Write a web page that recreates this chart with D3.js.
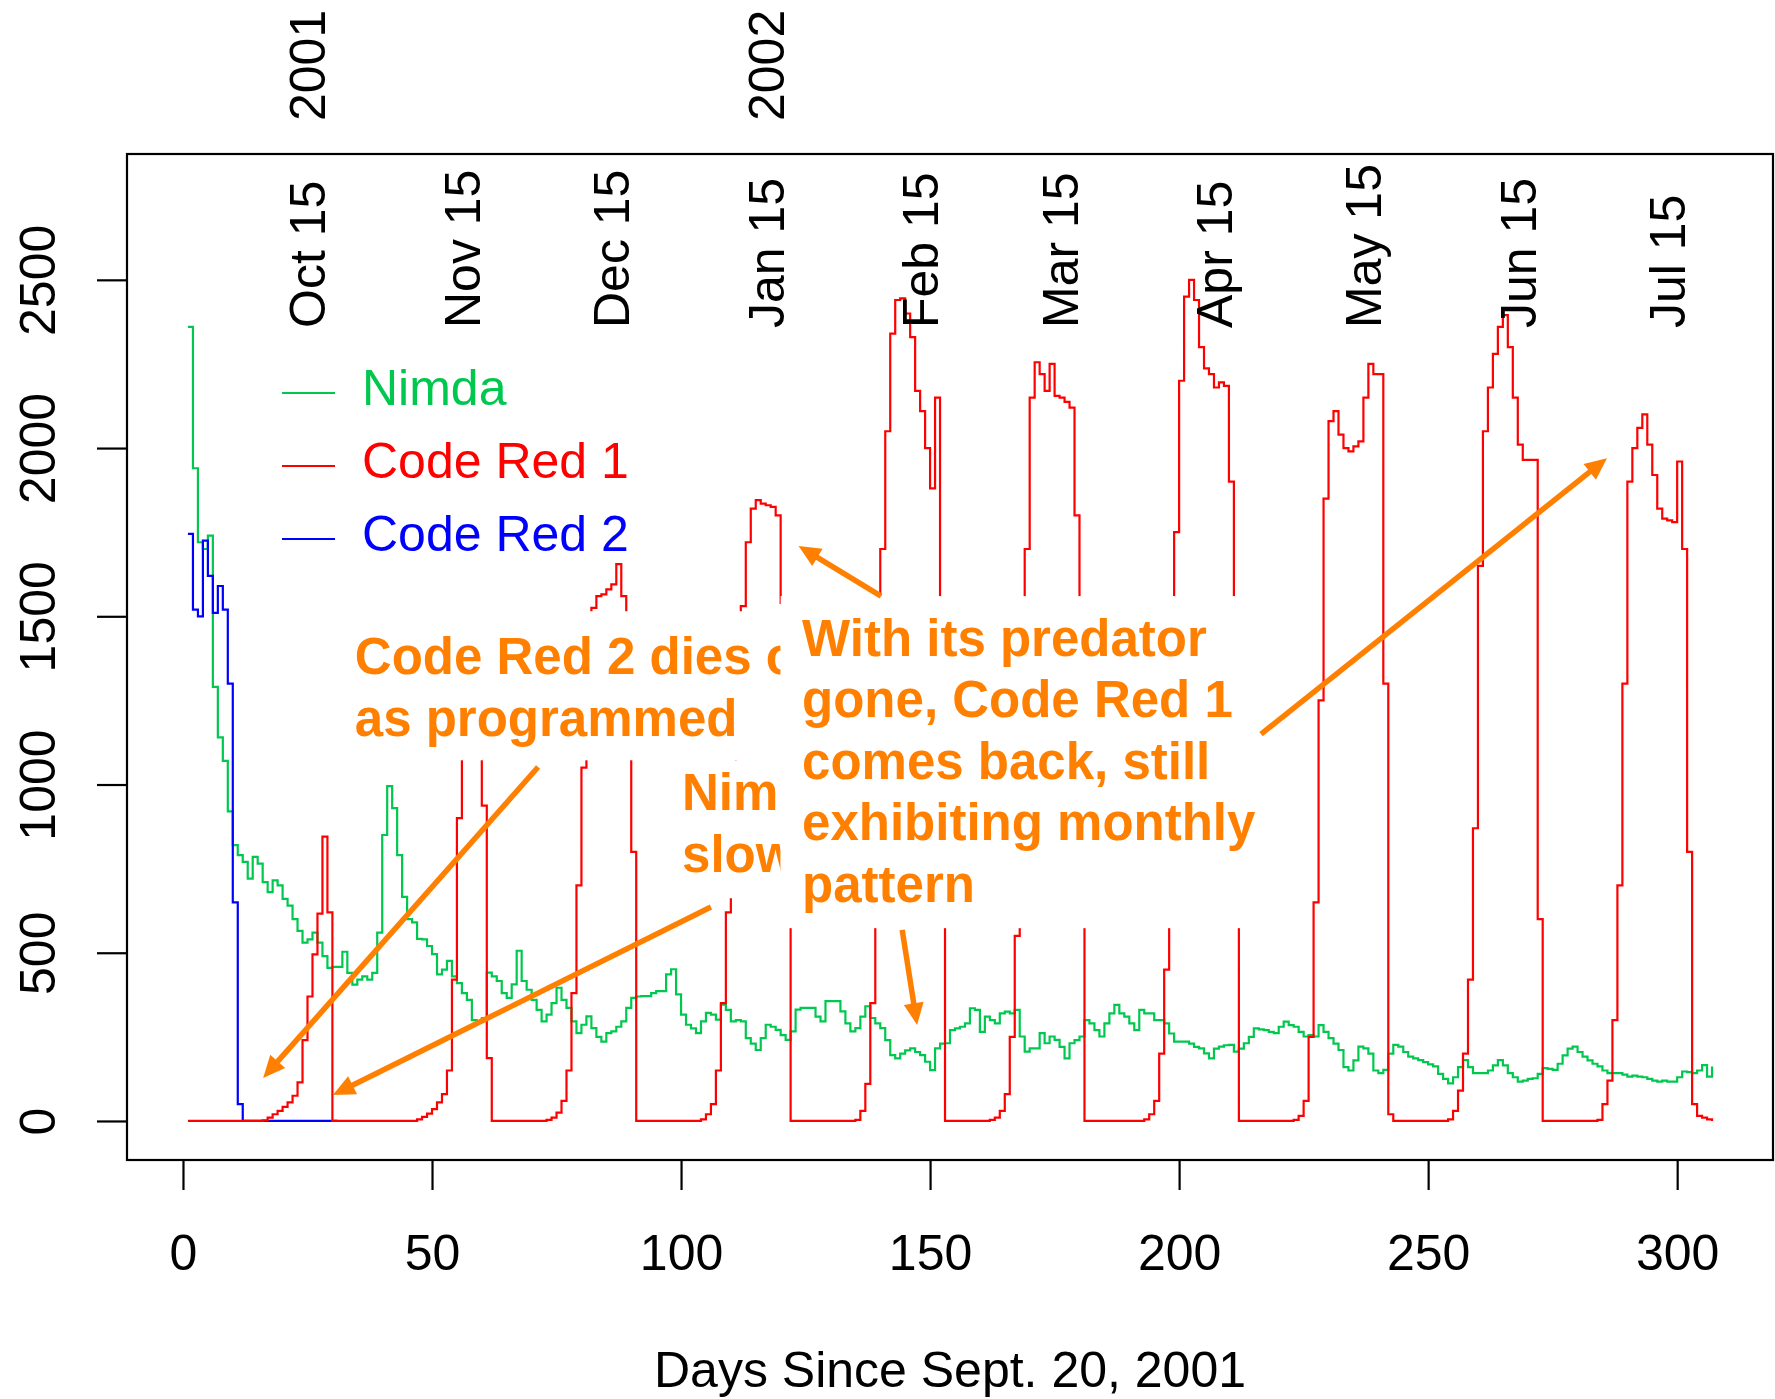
<!DOCTYPE html>
<html><head><meta charset="utf-8">
<script src="https://cdn.jsdelivr.net/npm/d3@7"></script>
<style>
html,body{margin:0;padding:0;background:#fff;}
svg{display:block;}
text{font-family:"Liberation Sans",Arial,Helvetica,sans-serif;}
</style>
</head><body>
<svg id="chart" width="1775" height="1399"></svg>
<script>
// ---------------- DATA (day 1 .. 307 since Sept. 20, 2001) ----------------
const nimda = [
 2360,1940,1720,1700,1740,1290,1140,1070,920,820,
 790,770,720,785,765,710,680,715,700,660,
 640,600,565,530,540,560,530,490,455,458,
 458,503,440,405,420,430,420,440,560,850,
 995,930,790,666,600,590,541,540,520,496,
 436,450,476,430,410,380,360,300,296,306,
 441,430,416,380,366,406,506,416,390,360,
 330,296,316,350,396,360,336,296,261,286,
 311,276,250,236,261,266,280,296,336,366,
 370,371,371,380,386,386,436,451,376,316,
 286,275,261,296,321,316,301,346,330,296,
 300,296,246,230,211,246,286,280,271,255,
 241,266,331,336,336,336,310,296,356,356,
 356,326,290,266,276,310,341,306,290,276,
 240,196,186,200,210,216,205,196,176,151,
 216,230,231,270,275,280,290,335,330,265,
 310,300,290,320,325,320,330,251,206,216,
 216,261,231,251,241,220,186,231,240,251,
 300,290,270,251,290,320,345,320,310,290,
 270,330,320,320,300,300,290,260,236,236,
 236,230,220,216,201,186,215,221,225,226,
 206,215,231,250,275,272,270,265,261,280,
 295,285,280,265,251,255,251,285,265,246,
 230,211,160,150,180,221,216,200,150,142,
 152,200,226,221,205,191,186,181,175,168,
 162,140,125,112,130,160,181,160,142,142,
 142,150,165,181,165,142,130,117,120,125,
 127,140,157,155,152,170,195,215,221,205,
 191,180,170,162,150,142,142,142,138,132,
 135,132,130,125,120,117,120,117,117,130,
 147,145,142,150,166,132,162
];
const codeRed1 = [
 0,0,0,0,0,0,0,0,0,0,
 0,0,0,0,0,2,10,20,30,42,
 55,75,115,240,370,495,616,845,620,0,
 0,0,0,0,0,0,0,0,0,0,
 0,0,0,0,0,0,5,12,22,35,
 55,80,150,420,900,1200,1330,1420,1300,937,
 187,0,0,0,0,0,0,0,0,0,
 0,0,3,10,25,60,150,380,700,1050,
 1350,1525,1560,1565,1580,1595,1655,1560,1420,800,
 0,0,0,0,0,0,0,0,0,0,
 0,0,0,5,20,50,150,350,620,1000,
 1350,1530,1720,1820,1845,1835,1830,1825,1800,1540,
 900,0,0,0,0,0,0,0,0,0,
 0,0,0,0,3,30,110,350,900,1700,
 2050,2340,2440,2445,2400,2330,2170,2110,2000,1880,
 2150,1200,0,0,0,0,0,0,0,0,
 0,3,10,30,80,250,550,1100,1700,2150,
 2255,2220,2170,2250,2155,2150,2137,2120,1800,1200,
 0,0,0,0,0,0,0,0,0,0,
 0,0,5,20,60,200,450,1100,1750,2200,
 2450,2500,2440,2300,2237,2220,2180,2195,2185,1900,
 1000,0,0,0,0,0,0,0,0,0,
 0,0,3,15,60,250,650,1250,1850,2080,
 2110,2040,2000,1990,2005,2020,2150,2250,2220,2220,
 1300,20,0,0,0,0,0,0,0,0,
 0,0,0,5,30,90,200,420,870,1650,
 2050,2180,2280,2360,2395,2300,2150,2010,1965,1965,
 1965,600,0,0,0,0,0,0,0,0,
 0,0,0,3,50,120,300,700,1300,1900,
 2000,2060,2100,2010,1920,1820,1790,1785,1780,1960,
 1700,800,50,15,10,5,0
];
const codeRed2 = [
 1745,1520,1500,1725,1620,1510,1590,1520,1300,650,
 50,0,0,0,0,0,0,0,0,0,
 0,0,0,0,0,0,0,0,0,0,
 0
];
const seriesNames  = ["Nimda", "Code Red 1", "Code Red 2"];
const seriesColors = ["#00c84f", "#ff0000", "#0000ff"];
const xTicks = [0, 50, 100, 150, 200, 250, 300];
const yTicks = [0, 500, 1000, 1500, 2000, 2500];
const monthLabels = ["Oct 15","Nov 15","Dec 15","Jan 15","Feb 15","Mar 15","Apr 15","May 15","Jun 15","Jul 15"];
const monthDays   = [25, 56, 86, 117, 148, 176, 207, 237, 268, 298];
const yearLabels  = ["2001", "2002"];
const yearDays    = [25, 117];
const xTitle = "Days Since Sept. 20, 2001";

// ---------------- LAYOUT ----------------
const plotL = 127, plotR = 1773, plotT = 154, plotB = 1160;
const svg = d3.select("#chart");
const FONT = 50;

const x = d3.scaleLinear().domain([-11.24, 319.24]).range([plotL, plotR]);
const y = d3.scaleLinear().domain([-116, 2874]).range([plotB, plotT]);

const toPts = arr => arr.map((v, i) => [i + 1, v]);
const line = d3.line().x(d => x(d[0])).y(d => y(d[1])).curve(d3.curveStepAfter);

// series (Nimda, then Code Red 2, then Code Red 1 on top)
const gLines = svg.append("g");
[[nimda, 0], [codeRed2, 2], [codeRed1, 1]].forEach(([arr, k]) => {
  gLines.append("path")
    .datum(toPts(arr))
    .attr("d", line)
    .attr("fill", "none")
    .attr("stroke", seriesColors[k])
    .attr("stroke-width", 2.2)
    .attr("stroke-linejoin", "miter");
});

// plot box
svg.append("rect")
  .attr("x", plotL).attr("y", plotT)
  .attr("width", plotR - plotL).attr("height", plotB - plotT)
  .attr("fill", "none").attr("stroke", "#000").attr("stroke-width", 2.2);

// y axis
const gy = svg.append("g").attr("transform", `translate(${plotL},0)`)
  .call(d3.axisLeft(y).tickValues(yTicks).tickFormat(d3.format("d")).tickSize(30).tickSizeOuter(0));
gy.select(".domain").remove();
gy.selectAll(".tick line").attr("stroke", "#000").attr("stroke-width", 2.2);
gy.selectAll(".tick text")
  .attr("x", 0).attr("dy", null)
  .attr("text-anchor", "middle")
  .attr("transform", `translate(${55 - plotL},0) rotate(-90)`)
  .attr("font-size", FONT).attr("fill", "#000")
  .attr("font-family", '"Liberation Sans",Arial,sans-serif');

// x axis
const gx = svg.append("g").attr("transform", `translate(0,${plotB})`)
  .call(d3.axisBottom(x).tickValues(xTicks).tickFormat(d3.format("d")).tickSize(30).tickSizeOuter(0));
gx.select(".domain").remove();
gx.selectAll(".tick line").attr("stroke", "#000").attr("stroke-width", 2.2);
gx.selectAll(".tick text")
  .attr("y", 110).attr("dy", null)
  .attr("font-size", FONT).attr("fill", "#000")
  .attr("font-family", '"Liberation Sans",Arial,sans-serif');

// x title
svg.append("text")
  .attr("x", (plotL + plotR) / 2).attr("y", 1387)
  .attr("text-anchor", "middle").attr("font-size", FONT).attr("fill", "#000")
  .text(xTitle);

// month labels (inside top of plot, vertical)
svg.append("g").selectAll("text").data(monthLabels).join("text")
  .attr("transform", (d, i) => `translate(${x(monthDays[i]) + 18},328) rotate(-90)`)
  .attr("text-anchor", "start").attr("font-size", FONT).attr("fill", "#000")
  .text(d => d);

// year labels (above plot)
svg.append("g").selectAll("text").data(yearLabels).join("text")
  .attr("transform", (d, i) => `translate(${x(yearDays[i]) + 18},121) rotate(-90)`)
  .attr("text-anchor", "start").attr("font-size", FONT).attr("fill", "#000")
  .text(d => d);

// legend
const legY = [393, 466, 539];
const gLeg = svg.append("g");
seriesNames.forEach((name, i) => {
  gLeg.append("line")
    .attr("x1", 282).attr("x2", 335).attr("y1", legY[i]).attr("y2", legY[i])
    .attr("stroke", seriesColors[i]).attr("stroke-width", 2.2);
  gLeg.append("text")
    .attr("x", 362).attr("y", legY[i] + 12)
    .attr("font-size", FONT).attr("fill", seriesColors[i])
    .text(name);
});

// ---------------- ANNOTATIONS (anchored in data space) ----------------
const ORANGE = "#ff8000";
const AFONT = 51;
const LINE_H = 61.5;
const CUT_DAY = 120; // left edge of the big note box, which hides what lies behind it

svg.append("defs").append("clipPath").attr("id", "leftOfBox2")
  .append("rect").attr("x", 0).attr("y", 0).attr("width", x(CUT_DAY)).attr("height", 1399);

function noteBox(box) {
  svg.append("rect")
    .attr("x", x(box.d0)).attr("y", y(box.v1))
    .attr("width", x(box.d1) - x(box.d0)).attr("height", y(box.v0) - y(box.v1))
    .attr("fill", "#fff");
}
function noteText(t, clip) {
  const g = svg.append("g");
  if (clip) g.attr("clip-path", "url(#leftOfBox2)");
  t.lines.forEach((s, i) => {
    g.append("text")
      .attr("x", x(t.day)).attr("y", y(t.val) + i * LINE_H)
      .attr("font-size", AFONT).attr("font-weight", "bold").attr("fill", ORANGE)
      .text(s);
  });
}

// box 1: Code Red 2 dies out (partly hidden behind the big note, as in the source)
noteBox({d0: 32.5, d1: CUT_DAY, v0: 1072, v1: 1515});
noteText({day: 34.5, val: 1328, lines: ["Code Red 2 dies o", "as programmed"]}, true);
// box 3: Nimda slows ... (partly hidden)
noteBox({d0: 98, d1: CUT_DAY, v0: 662, v1: 1072});
noteText({day: 100.2, val: 924, lines: ["Nim", "slow"]}, true);
// box 2: With its predator gone...
noteBox({d0: CUT_DAY, d1: 217.5, v0: 573, v1: 1560});
noteText({day: 124.3, val: 1382, lines: ["With its predator", "gone, Code Red 1", "comes back, still", "exhibiting monthly", "pattern"]}, false);

// arrows [fromDay, fromVal, toDay, toVal]
const arrows = [
  [71.3, 1052, 16.1, 128],
  [106.0, 636, 30.1, 77],
  [140.15, 1560, 123.6, 1709],
  [216.45, 1150, 285.9, 1970],
  [144.4, 568, 147.4, 285]
];
const gArr = svg.append("g");
arrows.forEach(a => {
  const x0 = x(a[0]), y0 = y(a[1]), x1 = x(a[2]), y1 = y(a[3]);
  const dx = x1 - x0, dy = y1 - y0, L = Math.hypot(dx, dy);
  const ux = dx / L, uy = dy / L;
  const hl = 22, hw = 10;
  const bx = x1 - ux * hl, by = y1 - uy * hl;
  gArr.append("line")
    .attr("x1", x0).attr("y1", y0).attr("x2", bx + ux * 4).attr("y2", by + uy * 4)
    .attr("stroke", ORANGE).attr("stroke-width", 5.5);
  gArr.append("polygon")
    .attr("points", [[x1, y1], [bx - uy * hw, by + ux * hw], [bx + uy * hw, by - ux * hw]].map(p => p.join(",")).join(" "))
    .attr("fill", ORANGE);
});
</script>
</body></html>
